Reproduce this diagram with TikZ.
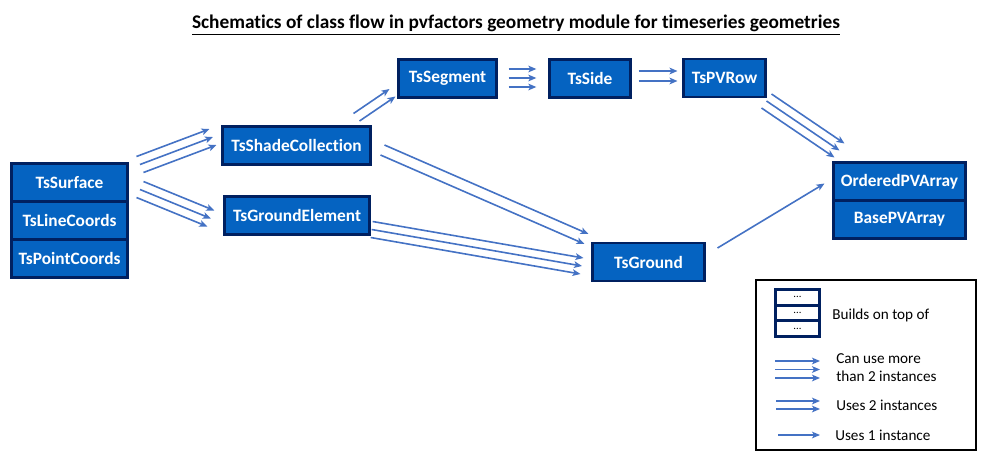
\documentclass[tikz,border=0pt]{standalone}
\usepackage{fontspec}
\setmainfont{Carlito}[Ligatures=NoCommon]
\usepackage{tikz}
\usetikzlibrary{arrows.meta,positioning}
\definecolor{clsfill}{HTML}{0563C1}
\definecolor{clsedge}{HTML}{002060}
\definecolor{arrblue}{HTML}{4472C4}
\tikzset{
  cls/.style={draw=clsedge, fill=clsfill, line width=2.2pt, text=white,
    font=\bfseries\fontsize{13}{15}\selectfont, inner sep=0pt, outer sep=0pt,
    minimum height=28.5pt},
  mini/.style={draw=clsedge, fill=white, line width=2.2pt, inner sep=0pt,
    outer sep=0pt, minimum width=33pt, minimum height=11.75pt,
    font=\fontsize{8}{8}\selectfont},
  arr/.style={draw=arrblue, line width=1.2pt,
    -{Stealth[length=6pt,width=5pt,inset=1.5pt]}},
  legtext/.style={anchor=west, inner sep=0pt, align=left,
    font=\fontsize{11.4}{13.5}\selectfont}
}

\begin{document}
\begin{tikzpicture}[x=0.75pt, y=-0.75pt]
	\useasboundingbox (0,0) rectangle (987,469);
	\node(title) at (516,25){\fontsize{14.5}{17}\selectfont\bfseries\underline{Schematics of class flow in pvfactors geometry module for timeseries geometries}};
	% classes
	\node(surface)[cls, minimum width=87pt] at (69.5,182.5){TsSurface};
	\node(linec)[cls, minimum width=87pt, below=0pt of surface]{TsLineCoords};
	\node(pointc)[cls, minimum width=87pt, below=0pt of linec]{TsPointCoords};
	\node(shade)[cls, minimum width=111pt] at (296.5,145.5){TsShadeCollection};
	\node(gelem)[cls, minimum width=109pt] at (297,215.5){TsGroundElement};
	\node(segment)[cls, minimum width=73.5pt] at (447.5,78.5){TsSegment};
	\node(side)[cls, minimum width=61pt] at (590,78.5){TsSide};
	\node(pvrow)[cls, minimum width=61.5pt] at (724.5,78){TsPVRow};
	\node(ground)[cls, minimum width=84pt] at (648.5,262){TsGround};
	\node(ordered)[cls, minimum width=99pt] at (899.5,181.5){OrderedPVArray};
	\node(base)[cls, minimum width=99pt, below=0pt of ordered]{BasePVArray};
	% connections
	\foreach \i in {0,1,2}
		\draw[arr]([shift={(9+3.5*\i,-7+8*\i)}]surface.north east) -- ([shift={(-13+3.5*\i,-16.5+8*\i)}]shade.west);
	\foreach \i in {0,1,2}
		\draw[arr]([shift={(16-3.5*\i,-1+8*\i)}]surface.east) -- ([shift={(-10-3.5*\i,-5+8*\i)}]gelem.west);
	\foreach \i in {0,1}
		\draw[arr]([shift={(-17+6*\i,-13+7.5*\i)}]shade.north east) -- ([shift={(-9+6*\i,10.5+7.5*\i)}]segment.west);
	\foreach \i in {0,1,2}
		\draw[arr]([shift={(12,-9.5+9*\i)}]segment.east) -- ([shift={(-13,-9.5+9*\i)}]side.west);
	\foreach \i in {0,1}
		\draw[arr]([shift={(8,-7.5+10*\i)}]side.east) -- ([shift={(-6,-7+10*\i)}]pvrow.west);
	\foreach \i in {0,1,2}
		\draw[arr]([shift={(6-5*\i,-3+7*\i)}]pvrow.south east) -- ([shift={(11-5*\i,-19+7*\i)}]ordered.north west);
	\foreach \i in {0,1}
		\draw[arr]([shift={(14-4*\i,-0.5+10*\i)}]shade.east) -- ([shift={(-4-4*\i,-9+10*\i)}]ground.north west);
	\foreach \i in {0,1,2}
		\draw[arr]([shift={(3-\i,6+8*\i)}]gelem.east) -- ([shift={(-9-1.5*\i,-4+8*\i)}]ground.west);
	\draw[arr]([shift={(13,-14)}]ground.east) -- ([shift={(-9,2)}]ordered.west);
	% legend
	\draw[line width=1.5pt](756,280) rectangle (976,450);
	\node(mini1)[mini] at (797.5,297.3){...};
	\node(mini2)[mini, below=0pt of mini1]{...};
	\node(mini3)[mini, below=0pt of mini2]{...};
	\node(buildtext)[legtext] at (832,315){Builds on top of};
	\node(moretext)[legtext] at (836,368){Can use more\\than 2 instances};
	\node(twotext)[legtext] at (836,405){Uses 2 instances};
	\node(onetext)[legtext] at (835,435){Uses 1 instance};
	\foreach \i in {0,1,2}
		\draw[arr]([shift={(-61,-7+8.5*\i)}]moretext.west) -- ([shift={(-16,-7+8.5*\i)}]moretext.west);
	\foreach \i in {0,1}
		\draw[arr]([shift={(-60,-4+8*\i)}]twotext.west) -- ([shift={(-16,-4+8*\i)}]twotext.west);
	\draw[arr]([shift={(-57,0)}]onetext.west) -- ([shift={(-15,0)}]onetext.west);
\end{tikzpicture}
\end{document}
